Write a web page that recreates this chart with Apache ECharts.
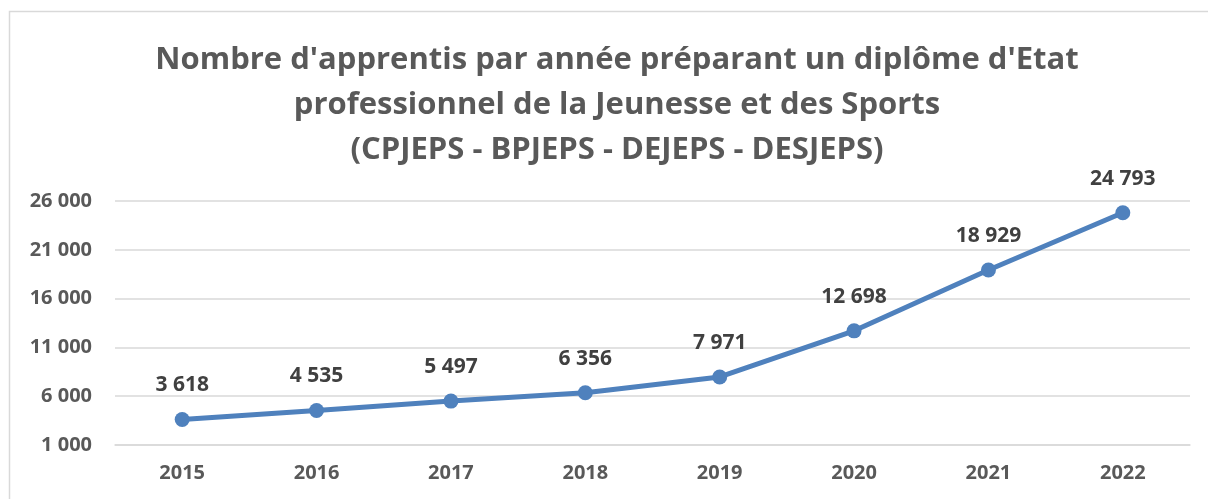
<!DOCTYPE html>
<html lang="fr">
<head>
  <meta charset="UTF-8">
  <title>Apprentis JEPS</title>
  <style>
    html, body { margin: 0; padding: 0; background: #fff; }
    #chart { width: 1208px; height: 499px; }
  </style>
</head>
<body>
  <div id="chart"></div>
  <script src="https://cdn.jsdelivr.net/npm/echarts@6/dist/echarts.min.js"></script>
  <script>
    // données
    const years = ['2015', '2016', '2017', '2018', '2019', '2020', '2021', '2022'];
    const apprentis = [3618, 4535, 5497, 6356, 7971, 12698, 18929, 24793];
    const yMin = 1000, yMax = 26000, yStep = 5000;

    const fmt = v => String(v).replace(/\B(?=(\d{3})+(?!\d))/g, ' ');
    const font = '"Open Sans", Lato, sans-serif';

    const chart = echarts.init(document.getElementById('chart'));
    chart.setOption({
      animation: false,
      textStyle: { fontFamily: font },
      title: {
        text: "Nombre d'apprentis par année préparant un diplôme d'Etat\nprofessionnel de la Jeunesse et des Sports\n(CPJEPS - BPJEPS - DEJEPS - DESJEPS)",
        left: 612,
        textAlign: 'center',
        top: 33,
        textStyle: { fontFamily: font, fontSize: 31, fontWeight: 'bold', color: '#595959', lineHeight: 45 }
      },
      graphic: [{
        type: 'rect',
        shape: { x: 9.5, y: 11.5, width: 1300, height: 600 },
        style: { fill: 'none', stroke: '#d9d9d9', lineWidth: 1.5 },
        silent: true
      }],
      grid: { left: 115, right: 18, top: 201, bottom: 54, containLabel: false },
      xAxis: {
        type: 'category',
        data: years,
        axisLine: { lineStyle: { color: '#d9d9d9', width: 1.5 } },
        axisTick: { show: false },
        axisLabel: { margin: 18, fontSize: 20, fontWeight: 'bold', color: '#595959', fontFamily: font }
      },
      yAxis: {
        type: 'value',
        min: yMin, max: yMax, interval: yStep,
        axisLine: { show: false },
        axisTick: { show: false },
        splitLine: { lineStyle: { color: '#d9d9d9', width: 1.5 } },
        axisLabel: { margin: 23, fontSize: 20, fontWeight: 'bold', color: '#595959', fontFamily: font, formatter: fmt }
      },
      series: [{
        type: 'line',
        data: apprentis,
        lineStyle: { color: '#4f81bd', width: 5 },
        itemStyle: { color: '#4f81bd' },
        symbol: 'circle',
        symbolSize: 15,
        label: {
          show: true, position: 'top', distance: 16,
          fontSize: 21, fontWeight: 'bold', color: '#404040', fontFamily: font,
          formatter: p => fmt(p.value)
        }
      }]
    });
  </script>
</body>
</html>
